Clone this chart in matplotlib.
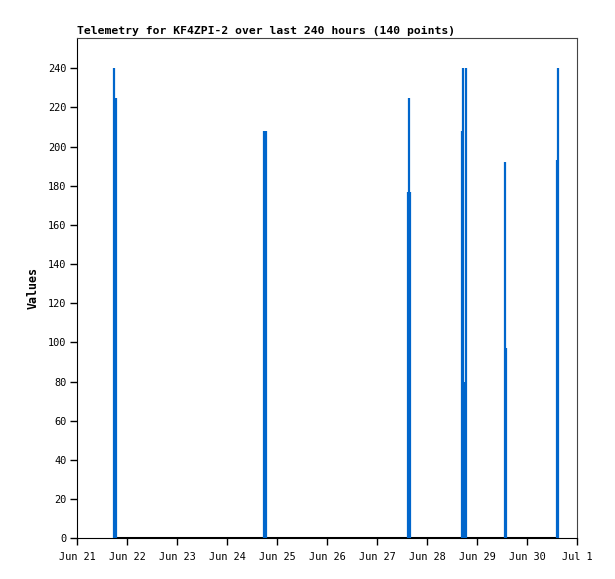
import datetime as dt
import matplotlib
matplotlib.use('Agg')
import matplotlib.pyplot as plt
import matplotlib.dates as mdates
from matplotlib.ticker import FuncFormatter

title = 'Telemetry for KF4ZPI-2 over last 240 hours (140 points)'

# non-zero samples (time, value); every other sample in the span is 0
times = [
    '2023-06-21 17:31', '2023-06-21 18:29',
    '2023-06-24 17:31', '2023-06-24 18:29',
    '2023-06-27 14:43', '2023-06-27 15:12', '2023-06-27 15:41',
    '2023-06-28 16:50', '2023-06-28 17:17', '2023-06-28 18:00', '2023-06-28 18:43',
    '2023-06-29 13:18', '2023-06-29 13:46',
    '2023-06-30 14:14', '2023-06-30 14:43',
]
values = [240, 225,
          208, 208,
          177, 225, 177,
          208, 240, 80, 240,
          192, 97,
          193, 240]

range_start = '2023-06-21 00:00'
range_end = '2023-07-01 00:00'

t = [dt.datetime.strptime(s, '%Y-%m-%d %H:%M') for s in times]
x0 = dt.datetime.strptime(range_start, '%Y-%m-%d %H:%M')
x1 = dt.datetime.strptime(range_end, '%Y-%m-%d %H:%M')

mono = 'DejaVu Sans Mono'

fig = plt.figure(figsize=(6.15, 5.79), dpi=100)
ax = fig.add_axes([77.3 / 615, 1 - 538.3 / 579, 500 / 615, 500 / 579])

# zero samples form a thick baseline between first and last point
ax.plot([t[0], t[-1]], [0, 0], color='black', lw=2.2, solid_capstyle='butt', zorder=3)
ax.vlines(t, 0, values, color='#0066cc', lw=1.6, capstyle='butt', zorder=4)

ax.set_xlim(x0, x1)
ax.set_ylim(0, 255.3)
ax.set_yticks(range(0, 241, 20))
ax.xaxis.set_major_locator(mdates.DayLocator())
ax.xaxis.set_major_formatter(FuncFormatter(
    lambda v, pos: '{:%b} {}'.format(mdates.num2date(v), mdates.num2date(v).day)))

ax.tick_params(direction='out', length=5, width=1, color='black', labelsize=7.4)
ax.tick_params(axis='x', pad=5)
ax.tick_params(axis='y', pad=3)
for lab in ax.get_xticklabels() + ax.get_yticklabels():
    lab.set_fontfamily(mono)

for side in ['left', 'bottom']:
    ax.spines[side].set_color('black')
for side in ['top', 'right']:
    ax.spines[side].set_color('#444444')

ax.set_ylabel('Values', fontfamily=mono, fontweight='bold', fontsize=8.4, labelpad=6)
fig.text(77 / 615, 1 - 31 / 579, title, fontfamily=mono, fontweight='bold',
         fontsize=8.2, ha='left', va='center')

plt.savefig('out.png', dpi=100)
